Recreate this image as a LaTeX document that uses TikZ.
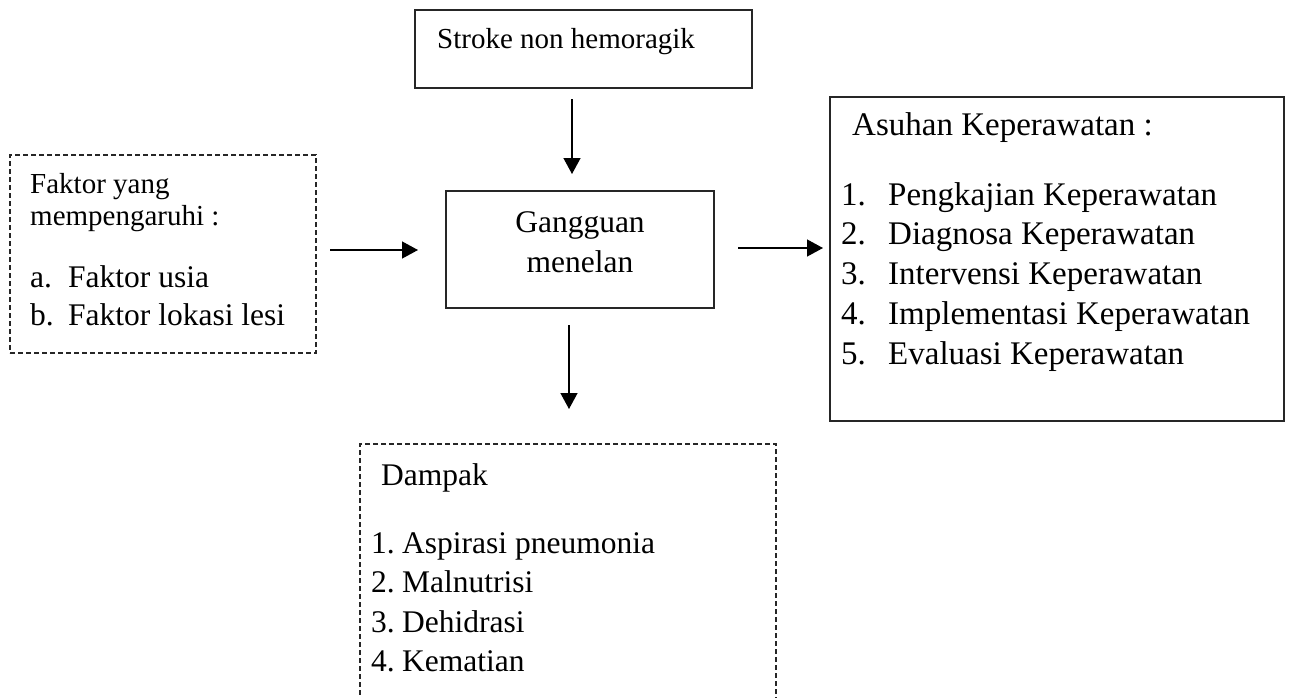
\documentclass[tikz,border=0pt]{standalone}
\usepackage{fontspec}
\setmainfont{Liberation Serif}
\usetikzlibrary{arrows.meta,positioning}

\newcommand{\numitem}[2]{\makebox[#1pt][l]{#2}}

\tikzset{
  box/.style={draw=black!85, line width=1.4pt, inner sep=0pt},
  dashbox/.style={box, dash pattern=on 5pt off 3pt},
  txt/.style={inner sep=0pt, anchor=base west, align=left},
  arr/.style={line width=1.3pt, black, -{Triangle[length=16pt,width=17pt]}},
}

\begin{document}
\begin{tikzpicture}[x=1pt,y=-1pt]
  \useasboundingbox (0,0) rectangle (1289,697);

  % frames
  \node[box, minimum width=337pt, minimum height=78pt] (stroke) at (583.5,49) {};
  \node[box, minimum width=268pt, minimum height=117pt] (gangguan) at (580,249.5) {};
  \node[box, minimum width=454pt, minimum height=324pt] (asuhan) at (1057,259) {};
  \node[dashbox, minimum width=306pt, minimum height=198pt] (faktor) at (163,254) {};
  \node[dashbox, minimum width=416pt, minimum height=266pt] (dampak) at (568,577) {};

  % texts (multi-line nodes sit on their last baseline)
  \node[txt, font=\fontsize{29}{32}\selectfont] (strokelbl) at (437,48) {Stroke non hemoragik};
  \node[txt, anchor=base, align=center, font=\fontsize{31.5}{40}\selectfont] (ganglbl) at (580,272) {Gangguan\\menelan};
  \node[txt, font=\fontsize{29}{32}\selectfont] (fakhead) at (30,225) {Faktor yang\\mempengaruhi :};
  \node[txt, font=\fontsize{31.5}{38}\selectfont] (faklist) at (30,325)
    {\numitem{38}{a.}Faktor usia\\\numitem{38}{b.}Faktor lokasi lesi};
  \node[txt, font=\fontsize{33}{38}\selectfont] (asuhead) at (852,135) {Asuhan Keperawatan :};
  \node[txt, font=\fontsize{33}{39.7}\selectfont] (asulist) at (841,364)
    {\numitem{47}{1.}Pengkajian Keperawatan\\
     \numitem{47}{2.}Diagnosa Keperawatan\\
     \numitem{47}{3.}Intervensi Keperawatan\\
     \numitem{47}{4.}Implementasi Keperawatan\\
     \numitem{47}{5.}Evaluasi Keperawatan};
  \node[txt, font=\fontsize{31.5}{38}\selectfont] (damhead) at (381,485) {Dampak};
  \node[txt, font=\fontsize{31.5}{39.5}\selectfont] (damlist) at (371,671.5)
    {\numitem{31}{1.}Aspirasi pneumonia\\
     \numitem{31}{2.}Malnutrisi\\
     \numitem{31}{3.}Dehidrasi\\
     \numitem{31}{4.}Kematian};

  % arrows
  \coordinate (s1) at (572,99);
  \coordinate (s2) at (572,174);
  \coordinate (f1) at (330,250);
  \coordinate (f2) at (418,250);
  \coordinate (a1) at (738,248);
  \coordinate (a2) at (823,248);
  \coordinate (d1) at (569,325);
  \coordinate (d2) at (569,409);
  \draw[arr] (s1) -- (s2);
  \draw[arr] (f1) -- (f2);
  \draw[arr] (a1) -- (a2);
  \draw[arr] (d1) -- (d2);
\end{tikzpicture}
\end{document}
